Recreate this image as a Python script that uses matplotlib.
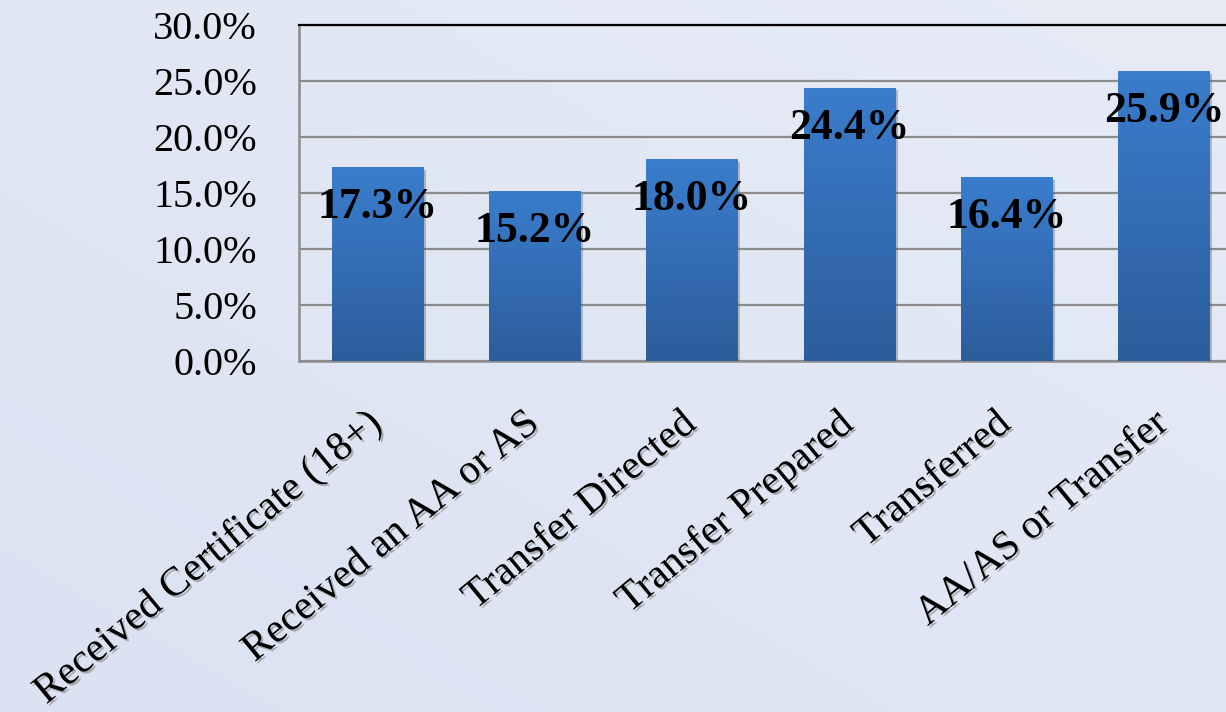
import numpy as np
import matplotlib
matplotlib.use("Agg")
import matplotlib.pyplot as plt
import matplotlib.patheffects as pe
from matplotlib.colors import LinearSegmentedColormap
from matplotlib.ticker import FuncFormatter, MultipleLocator

categories = ["Received Certificate (18+)", "Received an AA or AS", "Transfer Directed",
              "Transfer Prepared", "Transferred", "AA/AS or Transfer"]
rates = [17.3, 15.2, 18.0, 24.4, 16.4, 25.9]

plt.rcParams["font.family"] = ["Liberation Serif", "DejaVu Serif"]

fig = plt.figure(figsize=(12.26, 7.12), dpi=100)
fig.patch.set_facecolor("#dfe5f2")

# soft background wash behind everything
bg = fig.add_axes([0, 0, 1, 1], zorder=-10)
yy, xx = np.mgrid[0:1:200j, 0:1:200j]
wash = 0.5 * xx + 0.5 * (1 - yy)
bg_cmap = LinearSegmentedColormap.from_list("bg", ["#dbe2f1", "#e6ebf6"])
bg.imshow(wash, cmap=bg_cmap, aspect="auto", extent=[0, 1, 0, 1], origin="upper")
bg.axis("off")

ax = fig.add_axes([0.2436, 0.493, 0.7699, 0.4719])
ax.set_facecolor("none")

x = np.arange(len(categories))
bars = ax.bar(x, rates, width=0.58, color="#3570b8", zorder=3,
              path_effects=[pe.SimplePatchShadow(offset=(2, -2), shadow_rgbFace="#555555", alpha=0.35),
                            pe.Normal()])

# vertical gradient fill inside each bar
bar_cmap = LinearSegmentedColormap.from_list("bar", ["#2c5d9b", "#3a7dcd"])
grad = np.linspace(0, 1, 256).reshape(-1, 1)
for b in bars:
    im = ax.imshow(grad, cmap=bar_cmap, aspect="auto", origin="lower", zorder=4,
                   extent=[b.get_x(), b.get_x() + b.get_width(), 0, b.get_height()])
    im.set_clip_path(b)

for b, v in zip(bars, rates):
    ax.annotate(f"{v:.1f}%", (b.get_x() + b.get_width() / 2, v), xytext=(0, -40),
                textcoords="offset pixels", ha="center", va="center",
                fontsize=31.5, fontweight="bold", color="black", zorder=6)

ax.set_xlim(-0.5, len(categories) - 0.5)
ax.set_ylim(0, 30)
ax.yaxis.set_major_locator(MultipleLocator(5))
ax.yaxis.set_major_formatter(FuncFormatter(lambda v, p: f"{v:.1f}%"))
ax.grid(axis="y", color="#8c8c8c", linewidth=1.6, zorder=1)
ax.set_axisbelow(True)

ax.spines["top"].set_color("black")
ax.spines["top"].set_linewidth(1.6)
for s in ["left", "bottom"]:
    ax.spines[s].set_color("#8c8c8c")
    ax.spines[s].set_linewidth(1.8)
ax.spines["right"].set_visible(False)

ax.tick_params(axis="y", length=0, pad=30, labelsize=29)
ax.tick_params(axis="x", length=0, pad=42, labelsize=29.5)
ax.set_xticks(x)
ax.set_xticklabels(categories)
for lbl in ax.get_xticklabels():
    lbl.set_rotation(39.5)
    lbl.set_ha("right")
    lbl.set_va("center")
    lbl.set_rotation_mode("anchor")
    lbl.set_path_effects([pe.SimplePatchShadow(offset=(1.5, -1.5), shadow_rgbFace="#666666", alpha=0.45),
                          pe.Normal()])

fig.savefig("out.png", dpi=100, facecolor=fig.get_facecolor())
